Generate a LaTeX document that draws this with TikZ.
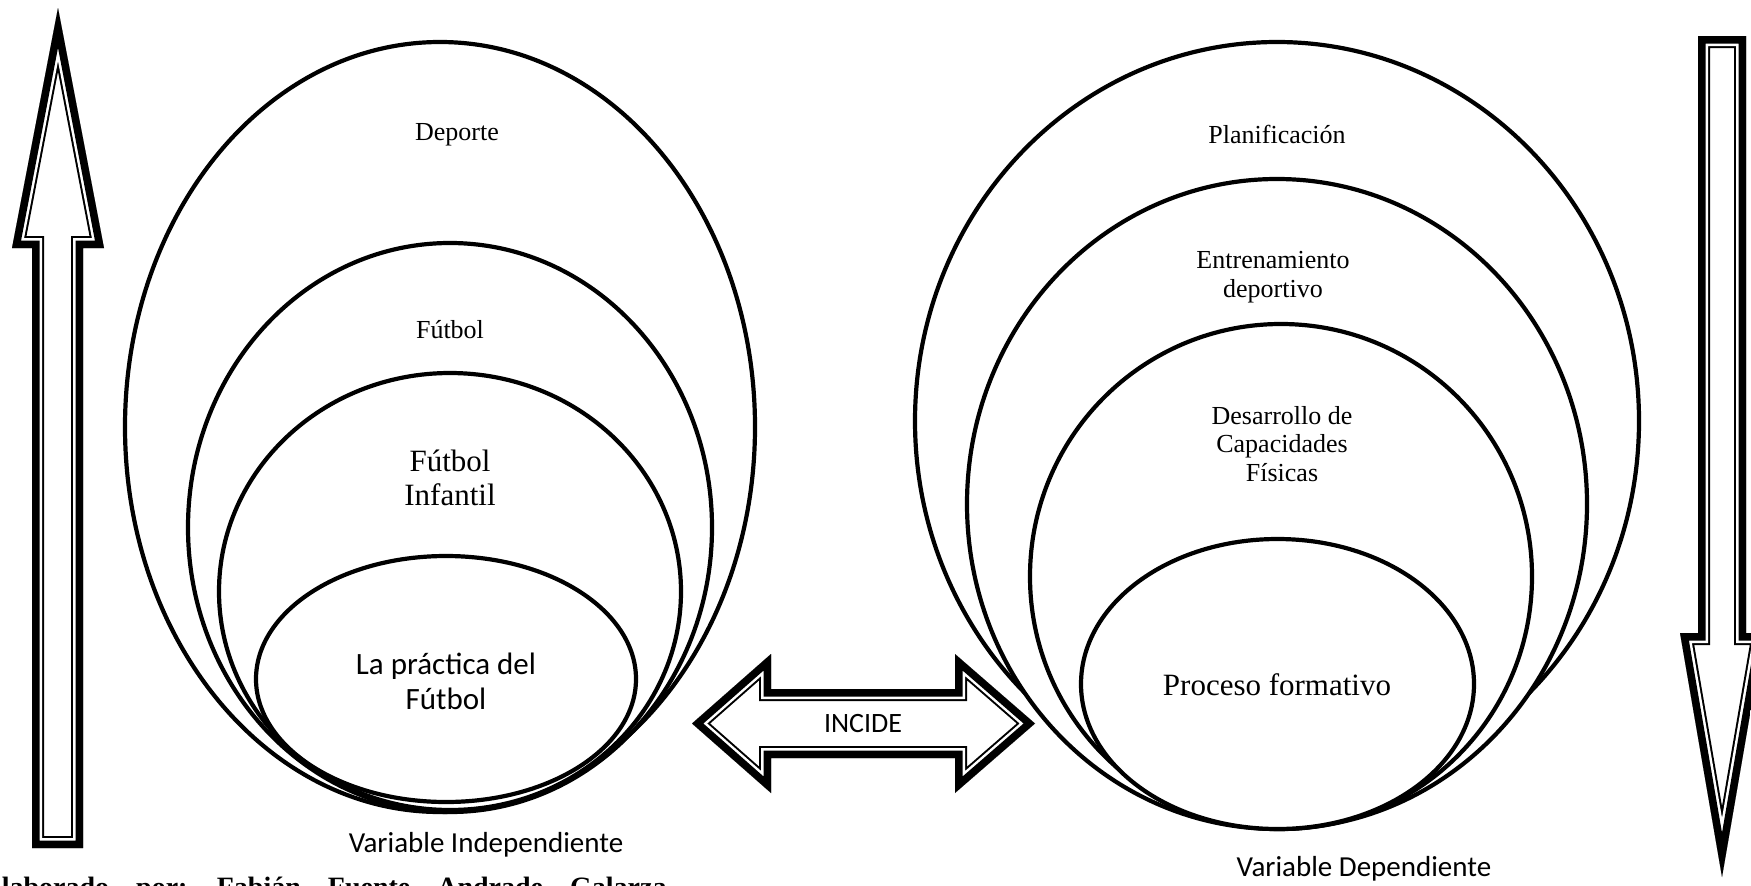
\documentclass[tikz,border=0pt]{standalone}
\usepackage{fontspec}
\setmainfont{Liberation Serif}
\newfontfamily\calibri{Carlito}
\tikzset{
  ring/.style={draw=black, fill=white, line width=4.2pt},
  serif/.style={font=\fontsize{26}{28.5}\selectfont, align=center, inner sep=0pt},
  serifbig/.style={font=\fontsize{31}{34}\selectfont, align=center, inner sep=0pt},
  sansbig/.style={font=\calibri\fontsize{31}{35}\selectfont, align=center, inner sep=0pt},
  sanslabel/.style={font=\calibri\fontsize{29}{33}\selectfont, align=center, inner sep=0pt},
}
% block arrow outlined by a heavy band, a thin gap and a fine inner line
\newcommand\bandarrow[1]{%
  \begin{scope}
    \clip #1;
    \fill[white] #1;
    \draw[line width=24pt, line join=miter, miter limit=30] #1;
    \draw[white, line width=20pt, line join=miter, miter limit=30] #1;
    \draw[line width=15pt, line join=miter, miter limit=30] #1;
  \end{scope}}
\begin{document}
\begin{tikzpicture}[x=1pt, y=-1pt]
\useasboundingbox (0,0) rectangle (1751,886);
\clip (0,0) rectangle (1751,886);

% left group of nested ellipses
\draw[ring] (440,427) ellipse [x radius=315pt, y radius=385pt];
\draw[ring] (450,527.5) ellipse [x radius=262pt, y radius=284.5pt];
\draw[ring] (450,591.5) ellipse [x radius=231pt, y radius=218.5pt];
\draw[ring] (446,679) ellipse [x radius=190pt, y radius=123pt];

\node[serif] (deporte) at (457,135) {Deporte};
\node[serif] (futbol) at (450,330) {Fútbol};
\node[serifbig] (infantil) at (450,478) {Fútbol\\Infantil};
\node[sansbig] (practica) at (446,681) {La práctica del\\Fútbol};
\node[sanslabel] (vind) at (486,845) {Variable Independiente};

% right group of nested ellipses
\draw[ring] (1277,421) ellipse [x radius=362pt, y radius=379pt];
\draw[ring] (1277,504) ellipse [x radius=310pt, y radius=325pt];
\draw[ring] (1281,576.5) ellipse [x radius=251pt, y radius=252.5pt];
\draw[ring] (1277.5,684) ellipse [x radius=196.5pt, y radius=145pt];

\node[serif] (plan) at (1277,134) {Planificación};
\node[serif] (entren) at (1273,277) {Entrenamiento\\deportivo};
\node[serif] (desarr) at (1282,444) {Desarrollo de\\Capacidades\\Físicas};
\node[serifbig] (proceso) at (1277,685) {Proceso formativo};
\node[sanslabel] (vdep) at (1364,869) {Variable Dependiente};

% vertical arrows
\bandarrow{(58,8) -- (104,248) -- (83,248) -- (83,848) -- (32,848) -- (32,248) -- (12,248) -- cycle}
\bandarrow{(1698,36) -- (1746,36) -- (1746,633) -- (1764,633) -- (1722,877) -- (1680,633) -- (1698,633) -- cycle}

% double-headed arrow between the groups
\bandarrow{(692,723.5) -- (771,654) -- (771,689) -- (955,689) -- (955,654) -- (1035,723.5) -- (955,793) -- (955,758) -- (771,758) -- (771,793) -- cycle}
\node[font=\calibri\fontsize{28}{32}\selectfont, inner sep=0pt] (incide) at (863,723.5) {INCIDE};

% source line
\node[anchor=base west, inner sep=0pt, font=\bfseries\fontsize{28}{30}\selectfont] (fuente) at (-17,896)
  {Elaborado\hspace{20pt} por:\hspace{20pt} Fabián\hspace{20pt} Fuente\hspace{20pt} Andrade\hspace{20pt} Galarza};
\end{tikzpicture}
\end{document}
